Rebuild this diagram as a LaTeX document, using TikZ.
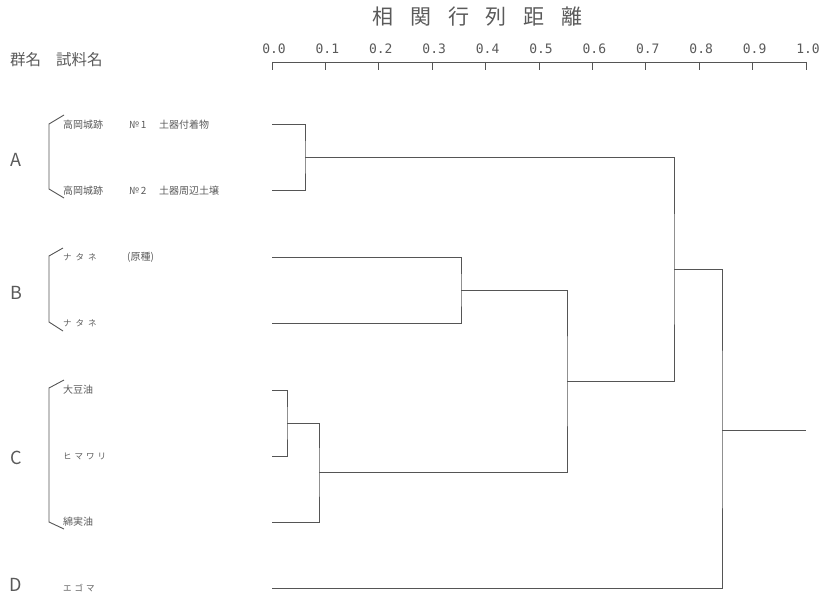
\documentclass[tikz,border=0pt]{standalone}
\usepackage{fontspec}
\setmainfont{Noto Sans CJK JP}
\setmonofont{DejaVu Sans Mono}
\definecolor{ink}{HTML}{555555}
\definecolor{txt}{HTML}{5A5A5A}
\tikzset{
  tree/.style={draw=ink, line width=0.95pt},
  lab/.style={anchor=west, inner sep=0pt, text=txt, font=\fontsize{10}{11}\selectfont},
  grp/.style={anchor=center, inner sep=0pt, text=txt, font=\fontsize{18}{20}\selectfont},
  ticklab/.style={anchor=base, inner sep=0pt, text=txt, font=\ttfamily\fontsize{13}{14}\selectfont},
  brk/.style={draw=ink, line width=0.9pt},
  hdr/.style={anchor=base west, inner sep=0pt, text=txt, font=\fontsize{15.5}{17}\selectfont},
  ttl/.style={anchor=center, inner sep=0pt, text=txt, font=\fontsize{21}{22}\selectfont}
}
\begin{document}
\begin{tikzpicture}[x=1pt,y=-1pt]
\useasboundingbox (0,0) rectangle (827,594);
% title
\foreach \c [count=\i from 0] in {相,関,行,列,距,離}
  \node[ttl] (t\i) at ({383+37.8*\i},17) {\c};
% header
\node[hdr] (h1) at (10,66) {群名};
\node[hdr] (h2) at (56,66) {試料名};
% axis
\coordinate (ax0) at (272,62);
\coordinate (ax1) at (806,62);
\draw[ink, line width=0.9pt] (ax0) -- (ax1);
\foreach \v [count=\i from 0] in {0.0,0.1,0.2,0.3,0.4,0.5,0.6,0.7,0.8,0.9,1.0} {
  \coordinate (tk\i) at ({272+53.4*\i},62);
  \draw[ink, line width=0.9pt] (tk\i) -- ++(0,8);
  \node[ticklab] (tl\i) at ({272+53.4*\i+2},53) {\v};
}
% leaves
\coordinate (a1) at (272,124);
\coordinate (a2) at (272,190);
\coordinate (b1) at (272,257);
\coordinate (b2) at (272,323);
\coordinate (c1) at (272,390);
\coordinate (c2) at (272,456);
\coordinate (c3) at (272,522);
\coordinate (d) at (272,588);
% merges
\coordinate (mA) at (305,157);
\coordinate (mB) at (461,290);
\coordinate (mC12) at (287,423);
\coordinate (mC) at (319,472);
\coordinate (mBC) at (567,381);
\coordinate (mABC) at (674,269);
\coordinate (mAll) at (722,430);
\coordinate (root) at (806,430);
\draw[tree] (a1) -| (mA) |- (a2);
\draw[tree] (b1) -| (mB) |- (b2);
\draw[tree] (c1) -| (mC12) |- (c2);
\draw[tree] (mC12) -| (mC) |- (c3);
\draw[tree] (mB) -| (mBC) |- (mC);
\draw[tree] (mA) -| (mABC) |- (mBC);
\draw[tree] (mABC) -| (mAll) |- (d);
\draw[tree] (mAll) -- (root);
% brackets
\coordinate (ka0) at (64,115); \coordinate (ka1) at (49,124);
\coordinate (ka2) at (49,189); \coordinate (ka3) at (64,198);
\draw[brk] (ka0) -- (ka1) -- (ka2) -- (ka3);
\coordinate (kb0) at (63,248); \coordinate (kb1) at (49,256);
\coordinate (kb2) at (49,322); \coordinate (kb3) at (63,331);
\draw[brk] (kb0) -- (kb1) -- (kb2) -- (kb3);
\coordinate (kc0) at (64,380); \coordinate (kc1) at (49,388);
\coordinate (kc2) at (49,522); \coordinate (kc3) at (64,529);
\draw[brk] (kc0) -- (kc1) -- (kc2) -- (kc3);
% group letters
\node[grp] (gA) at (16,160) {A};
\node[grp] (gB) at (16,293) {B};
\node[grp] (gC) at (16,458) {C};
\node[grp] (gD) at (16,585) {D};
% sample labels
\node[lab] (la1) at (63,125) {\makebox[66pt][l]{高岡城跡}\makebox[30pt][l]{№\,1}土器付着物};
\node[lab] (la2) at (63,191) {\makebox[66pt][l]{高岡城跡}\makebox[30pt][l]{№\,2}土器周辺土壌};
\node[lab] (lb1) at (63,257) {\makebox[64pt][l]{\fontsize{8.5}{9}\selectfont ナ\hspace{4pt}タ\hspace{4pt}ネ}(原種)};
\node[lab] (lb2) at (63,323) {\fontsize{8.5}{9}\selectfont ナ\hspace{4pt}タ\hspace{4pt}ネ};
\node[lab] (lc1) at (63,390) {大豆油};
\node[lab] (lc2) at (63,456) {\fontsize{8.5}{9}\selectfont ヒ\hspace{3pt}マ\hspace{3pt}ワ\hspace{3pt}リ};
\node[lab] (lc3) at (63,522) {綿実油};
\node[lab] (ld) at (63,588) {\fontsize{8.5}{9}\selectfont エ\hspace{3pt}ゴ\hspace{3pt}マ};
\end{tikzpicture}
\end{document}
